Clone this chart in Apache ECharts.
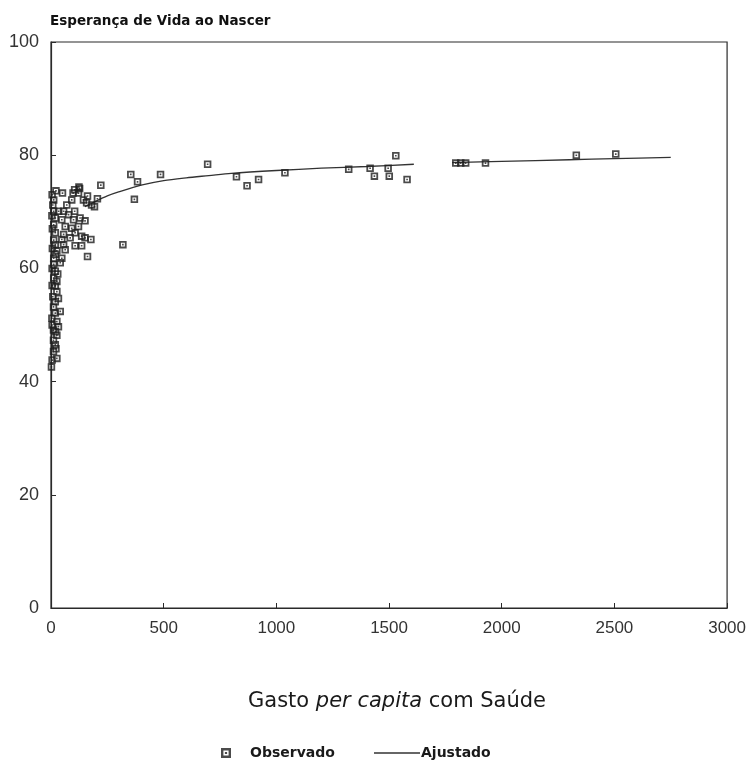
<!DOCTYPE html>
<html>
<head>
<meta charset="utf-8">
<script src="https://cdn.jsdelivr.net/npm/echarts@6/dist/echarts.min.js"></script>
<style>
  html, body { margin: 0; padding: 0; background: #fff; }
  #chart { width: 749px; height: 761px; }
</style>
</head>
<body>
<div id="chart"></div>
<script>
// Gasto per capita com saúde (eixo x) e esperança de vida ao nascer (eixo y)
const obsX = [
  221, 22, 51, 12, 105, 127, 122, 92, 70, 144, 158, 180, 193, 370,
  12, 34, 56, 78, 105, 19, 48, 100, 129, 151, 12, 63, 92, 122,
  19, 56, 107, 12, 48, 85, 136, 151, 19, 56, 107, 136, 177, 26, 63,
  319, 12, 48, 162, 12, 41, 19, 12, 162, 206, 124, 98,
  5, 8, 4, 6, 6, 20, 5, 30, 5, 8, 5, 20, 22, 5,
  26, 19, 26, 33, 19, 11, 41, 19, 4, 26, 33, 11, 26, 11, 19, 11, 26, 2,
  354, 384, 486, 695, 823, 870, 921, 1038, 1321, 1416, 1435, 1496, 1501,
  1530, 1580, 1796, 1818, 1840, 1928, 2331, 2506
];
const obsY = [
  74.7, 73.7, 73.3, 72.1, 73.9, 74.1, 73.3, 72.1, 71.2, 72.1, 71.6, 71.2, 70.9, 72.2,
  70.1, 70.1, 70.1, 69.5, 70.1, 68.9, 68.6, 68.6, 68.9, 68.4, 67.7, 67.4, 67.1, 67.4,
  66.3, 66.0, 66.3, 65.0, 65.1, 65.4, 65.7, 65.4, 64.2, 64.2, 64.0, 64.0, 65.1, 63.1, 63.3,
  64.2, 61.8, 61.8, 62.1, 60.7, 61.0, 59.5, 58.3, 72.8, 72.3, 74.4, 73.3,
  73.0, 71.2, 69.3, 67.0, 63.5, 62.5, 60.0, 59.0, 57.0, 55.0, 50.0, 48.8, 45.8, 43.8,
  57.7, 56.9, 55.9, 54.7, 54.1, 53.2, 52.4, 52.1, 51.2, 50.6, 49.7, 49.1, 48.2, 47.3, 46.5, 45.3, 44.1, 42.6,
  76.6, 75.3, 76.6, 78.4, 76.2, 74.6, 75.7, 76.9, 77.5, 77.7, 76.3, 77.7, 76.3,
  79.9, 75.7, 78.6, 78.6, 78.6, 78.6, 80.0, 80.2
];

// Curva ajustada (com interrupção entre os dois trechos)
const fitX = [150, 200, 250, 300, 400, 500, 600, 700, 800, 1000, 1200, 1400, 1610, 1700, 1780, 2000, 2300, 2500, 2750];
const fitY = [70.9, 71.9, 72.8, 73.5, 74.7, 75.5, 76.0, 76.4, 76.8, 77.3, 77.7, 78.0, 78.4, null, 78.7, 78.9, 79.2, 79.4, 79.6];

const xTicks = [0, 500, 1000, 1500, 2000, 2500, 3000];
const yTicks = [0, 20, 40, 60, 80, 100];

const ink = '#2a2a2a';
const font = 'DejaVu Sans';
// quadrado com moldura escura e ponto central
const markerPath = 'path://M0,0H10V10H0Z M2.4,2.4V7.6H7.6V2.4Z M3.9,3.9H6.1V6.1H3.9Z';

const scatterData = obsX.map((x, i) => [x, obsY[i]]);
const fitData = fitX.map((x, i) => [x, fitY[i] === null ? '-' : fitY[i]]);

const chart = echarts.init(document.getElementById('chart'), null, { renderer: 'canvas' });
chart.setOption({
  animation: false,
  backgroundColor: '#fff',
  title: {
    text: 'Esperança de Vida ao Nascer',
    left: 45, top: 9,
    textStyle: { fontFamily: font, fontSize: 13.5, fontWeight: 'bold', color: '#111' }
  },
  grid: {
    left: 51, right: 11, top: 42, bottom: 153,
    show: true, borderColor: ink, borderWidth: 1.2, backgroundColor: 'transparent'
  },
  xAxis: {
    type: 'value', min: 0, max: 3000, interval: 500,
    axisLine: { show: true, lineStyle: { color: ink, width: 1.2 } },
    axisTick: { show: true, inside: true, length: 5, lineStyle: { color: ink } },
    splitLine: { show: false },
    axisLabel: {
      margin: 12, color: '#333', fontFamily: 'Liberation Sans', fontSize: 17,
      formatter: v => xTicks.includes(v) ? String(v) : ''
    }
  },
  yAxis: {
    type: 'value', min: 0, max: 100, interval: 20,
    axisLine: { show: true, lineStyle: { color: ink, width: 1.2 } },
    axisTick: { show: true, inside: true, length: 5, lineStyle: { color: ink } },
    splitLine: { show: false },
    axisLabel: {
      margin: 12, color: '#333', fontFamily: 'Liberation Sans', fontSize: 18,
      formatter: v => yTicks.includes(v) ? String(v) : ''
    }
  },
  legend: [
    {
      data: [{ name: 'Observado', icon: markerPath }],
      left: 216, top: 741, itemWidth: 10, itemHeight: 10, itemGap: 0,
      textStyle: { fontFamily: font, fontSize: 14, fontWeight: 'bold', color: '#1a1a1a', padding: [0, 0, 0, 14] }
    },
    {
      data: [{ name: 'Ajustado', icon: 'path://M0,0H46V1.4H0Z' }],
      left: 369, top: 741, itemWidth: 46, itemHeight: 2, itemGap: 0,
      textStyle: { fontFamily: font, fontSize: 14, fontWeight: 'bold', color: '#1a1a1a', padding: [0, 0, 0, -4] }
    }
  ],
  graphic: [{
    type: 'text',
    left: 248, top: 691,
    style: {
      text: '{n|Gasto }{i|per capita}{n| com Saúde}',
      rich: {
        n: { fontFamily: font, fontSize: 21, fill: '#1a1a1a' },
        i: { fontFamily: font, fontSize: 21, fontStyle: 'italic', fill: '#1a1a1a' }
      }
    }
  }],
  series: [
    {
      name: 'Observado',
      type: 'scatter',
      data: scatterData,
      symbol: markerPath,
      symbolSize: 7.5,
      itemStyle: { color: '#1e1e1e' },
      z: 3
    },
    {
      name: 'Ajustado',
      type: 'line',
      data: fitData,
      showSymbol: false,
      symbol: 'none',
      smooth: 0.3,
      connectNulls: false,
      lineStyle: { color: '#333', width: 1.3 },
      itemStyle: { color: '#333' },
      z: 2
    }
  ]
});
</script>
</body>
</html>
